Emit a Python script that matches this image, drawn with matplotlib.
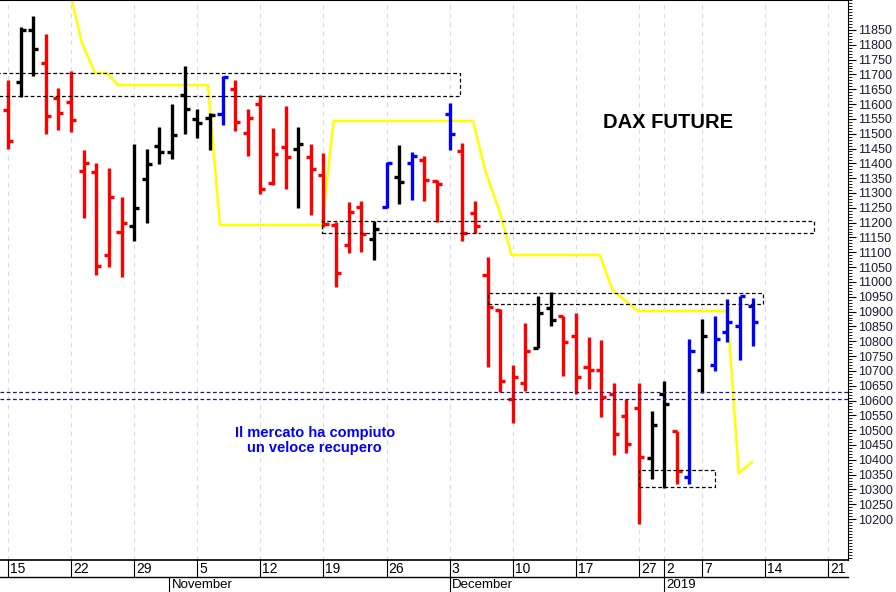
import matplotlib
matplotlib.use("Agg")
import matplotlib.pyplot as plt
import matplotlib.transforms as mtransforms
from matplotlib.ticker import MultipleLocator

# ---- data (trading-day index 0 = 15 Oct 2018) ----
opens  = [11580,11674,11850,11739,11620, 11607,11374,11371,11091,11168, 11189,11347,11459,11438,11631,
          11550,11553,11566,11651,11502, 11600,11334,11455,11448,11421, 11361,11192,11124,11253,11145,
          11253,11354,11401,11411,11340, 11566,11442,11232,11023,10905, 10605,10659,10777,10912,10885,
          10817,10713,10703,10622,10548, 10575,10406,10622,10497,10342, 10703,10719,10831,10851,10919]
highs  = [11681,11860,11897,11836,11654, 11712,11445,11401,11384,11286, 11465,11448,11523,11600,11728,
          11583,11570,11695,11681,11583, 11631,11519,11593,11523,11465, 11435,11202,11270,11273,11205,
          11405,11462,11438,11425,11344, 11604,11469,11273,11084,10908, 10720,10861,10952,10966,10885,
          10895,10814,10804,10659,10605, 10659,10564,10666,10497,10807, 10875,10885,10942,10952,10945]
lows   = [11449,11624,11695,11499,11512, 11506,11216,11023,11050,11017, 11138,11199,11398,11415,11499,
          11486,11445,11529,11509,11425, 11297,11327,11313,11249,11226, 11185,10983,11097,11101,11074,
          11249,11263,11276,11273,11202, 11445,11138,11165,10713,10628, 10524,10632,10777,10851,10682,
          10622,10639,10544,10416,10423, 10183,10335,10305,10318,10318, 10625,10699,10797,10736,10784]
closes = [11475,11850,11786,11560,11570, 11546,11401,11054,11286,11199, 11249,11398,11438,11496,11583,
          11536,11563,11691,11540,11553, 11313,11432,11421,11465,11381, 11195,11030,11236,11162,11178,
          11401,11337,11425,11344,11330, 11499,11165,11189,10915,10666, 10679,10767,10895,10871,10797,
          10679,10703,10612,10487,10453, 10409,10517,10588,10362,10767, 10817,10807,10865,10952,10865]
colors = (["red","black","black","red","red", "red","red","red","red","red",
           "black","black","black","black","black", "black","black","blue","red","red",
           "red","red","red","black","red", "red","red","red","red","black",
           "blue","black","blue","red","red", "blue","red","red","red","red",
           "red","red","black","black","red", "red","red","red","red","red",
           "red","black","black","red","blue", "black","blue","blue","blue","blue"])

stop_x = [5.07,5.86,6.9,7.85,8.7,15.85,16.8,24.9,25.8,36.85,37.8,39.0,39.9,46.9,47.9,49.9,57.0,57.9,58.95]
stop_y = [11951,11806,11705,11705,11664,11664,11192,11192,11543,11543,11378,11232,11091,11091,10973,10902,10902,10355,10392]

date_pos    = [0,5,10,15,20,25,30,35,40,45,50,52,55,60,65]
date_labels = ["15","22","29","5","12","19","26","3","10","17","27","2","7","14","21"]
month_pos    = [12.8,35,52]
month_labels = ["November","December","2019"]

# dashed zones: (x0, x1, y_low, y_high)
zones = [(-1,35.8,11627,11705),(24.9,63.9,11165,11205),(38.0,59.8,10925,10963),(50.0,56.0,10308,10365)]
blue_levels = [10605,10628]

NARROW = ["Liberation Sans Narrow", "Liberation Sans", "DejaVu Sans"]

W, H = 896, 592
fig = plt.figure(figsize=(W/100, H/100), dpi=100)
ax = fig.add_axes([0, 1-560/H, 848/W, 560/H])
ax.set_xlim(-0.63, 66.56)
ax.set_ylim(10062, 11951)

for p in date_pos:
    ax.axvline(p, color="#d8d8f0", lw=0.8, ls=(0,(4,4)), zorder=0)

tk = 0.4
for i,(o,h,l,c,col) in enumerate(zip(opens,highs,lows,closes,colors)):
    ax.plot([i,i],[l,h],color=col,lw=2.4,solid_capstyle="butt",zorder=3)
    ax.plot([i-tk,i],[o,o],color=col,lw=2.4,solid_capstyle="butt",zorder=3)
    ax.plot([i,i+tk],[c,c],color=col,lw=2.4,solid_capstyle="butt",zorder=3)

ax.plot(stop_x, stop_y, color="#ffff00", lw=1.8, zorder=2)

for x0,x1,y0,y1 in zones:
    ax.plot([x0,x1,x1,x0,x0],[y0,y0,y1,y1,y0],color="black",lw=0.9,ls=(0,(3,2)),zorder=4)
for yv in blue_levels:
    ax.axhline(yv,color="#1a1a8c",lw=0.9,ls=(0,(3,2)),zorder=4)

ax.text(52.3, 11537, "DAX FUTURE", fontsize=14.5, fontweight="bold", ha="center", va="center",
        family=["Liberation Sans", "DejaVu Sans"])
ax.text(24.3, 10465, "Il mercato ha compiuto\nun veloce recupero", fontsize=10.5, fontweight="bold",
        color="blue", ha="center", va="center", family=NARROW, linespacing=1.15)

ax.yaxis.tick_right()
ax.set_yticks(range(10200,11851,50))
ax.yaxis.set_minor_locator(MultipleLocator(10))
ax.tick_params(axis="y", which="major", length=6, labelsize=9, pad=1.5)
ax.tick_params(axis="y", which="minor", length=3)
for lab in ax.get_yticklabels():
    lab.set_color("#1a1a3a")
    lab.set_family(NARROW)
ax.set_xticks([])
ax.spines["left"].set_visible(False)
ax.spines["bottom"].set_visible(False)

tr = mtransforms.blended_transform_factory(ax.transData, fig.transFigure)
fy = lambda py: 1 - py/H
fig.add_artist(plt.Line2D([0, 848/W],[fy(560),fy(560)],color="black",lw=1.2))
fig.add_artist(plt.Line2D([0, 848/W],[fy(577),fy(577)],color="black",lw=1.0))
for p,l in zip(date_pos,date_labels):
    fig.add_artist(plt.Line2D([p,p],[fy(560),fy(577)],color="black",lw=0.8,transform=tr))
    fig.text(p+0.15, fy(569), l, transform=tr, fontsize=10, va="center", ha="left", family=NARROW)
for p,l in zip(month_pos,month_labels):
    fig.add_artist(plt.Line2D([p,p],[fy(577),fy(592)],color="black",lw=0.8,transform=tr))
    fig.text(p+0.15, fy(585), l, transform=tr, fontsize=9.5, va="center", ha="left", family=NARROW)

fig.savefig("out.png", dpi=100)
